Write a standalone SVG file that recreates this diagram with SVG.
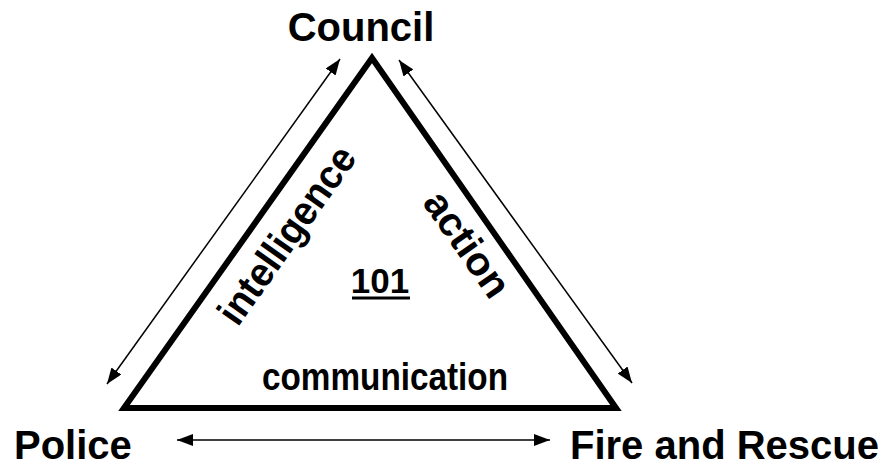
<svg xmlns="http://www.w3.org/2000/svg" width="893" height="468" viewBox="0 0 893 468">
<style>
.lbl{font-family:"Liberation Sans",Arial,sans-serif;font-weight:bold;fill:#000}
.conn{stroke:#000;stroke-width:1.5;fill:none}
</style>
<defs>
<marker id="ah" viewBox="0 0 16 12" refX="16" refY="6" markerWidth="16" markerHeight="12" markerUnits="userSpaceOnUse" orient="auto-start-reverse">
<path d="M0,0 L16,6 L0,12 z" fill="#000"/>
</marker>
</defs>
<rect width="893" height="468" fill="#fff"/>
<g id="triangle">
<polygon points="372,58 124,408 616,408" fill="none" stroke="#000" stroke-width="6" stroke-linejoin="miter"/>
<text class="lbl" x="262" y="390" font-size="38" textLength="246" lengthAdjust="spacingAndGlyphs">communication</text>
<g transform="translate(288,236) rotate(-54.7)"><text class="lbl" x="0" y="12" font-size="40" text-anchor="middle" textLength="208" lengthAdjust="spacingAndGlyphs">intelligence</text></g>
<g transform="translate(466,245) rotate(55.1)"><text class="lbl" x="0" y="12" font-size="40" text-anchor="middle" textLength="120" lengthAdjust="spacingAndGlyphs">action</text></g>
<text class="lbl" x="380" y="293" font-size="35" text-anchor="middle">101</text>
<line x1="352" y1="298" x2="410" y2="298" stroke="#000" stroke-width="3"/>
</g>
<g id="council"><text class="lbl" x="361" y="41" font-size="40" text-anchor="middle">Council</text></g>
<g id="police"><text class="lbl" x="14" y="459" font-size="40">Police</text></g>
<g id="fire"><text class="lbl" x="570" y="459" font-size="40">Fire and Rescue</text></g>
<g id="connectors">
<line class="conn" x1="107" y1="384" x2="340" y2="59" marker-start="url(#ah)" marker-end="url(#ah)"/>
<line class="conn" x1="399" y1="60" x2="632" y2="383" marker-start="url(#ah)" marker-end="url(#ah)"/>
<line class="conn" x1="177" y1="440" x2="550" y2="440" marker-start="url(#ah)" marker-end="url(#ah)"/>
</g>
</svg>
